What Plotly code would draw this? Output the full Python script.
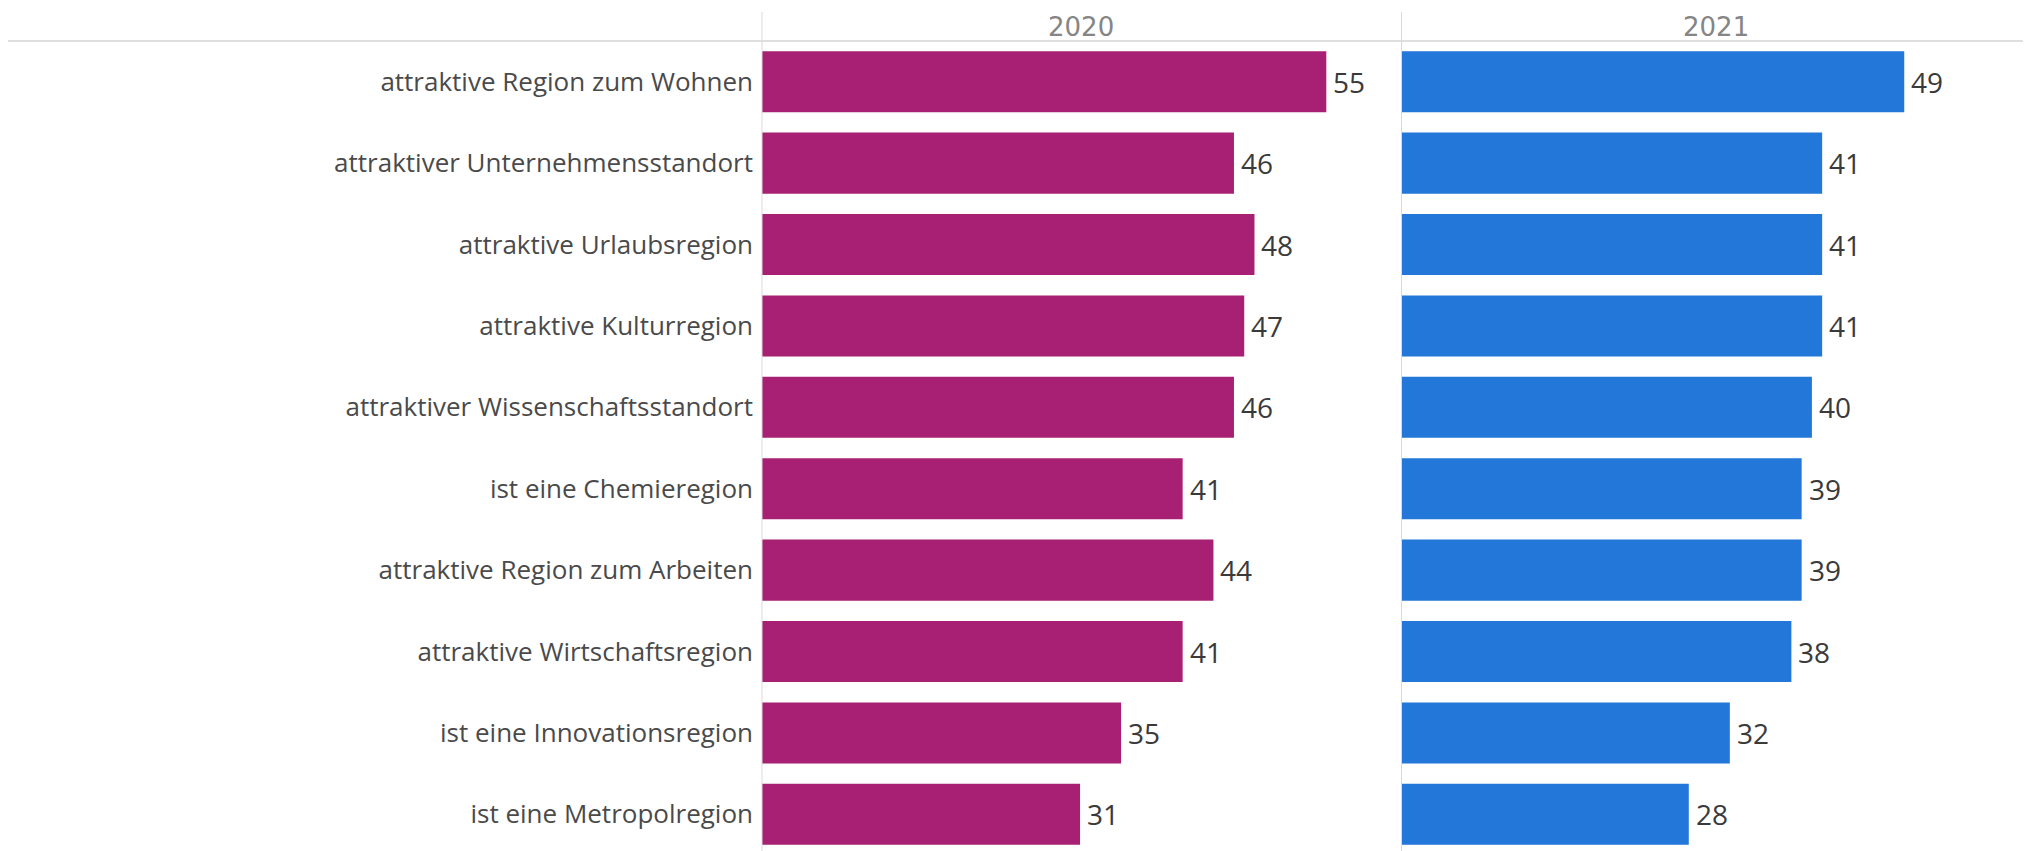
import plotly.graph_objects as go

categories = [
    "attraktive Region zum Wohnen",
    "attraktiver Unternehmensstandort",
    "attraktive Urlaubsregion",
    "attraktive Kulturregion",
    "attraktiver Wissenschaftsstandort",
    "ist eine Chemieregion",
    "attraktive Region zum Arbeiten",
    "attraktive Wirtschaftsregion",
    "ist eine Innovationsregion",
    "ist eine Metropolregion",
]
values_2020 = [55, 46, 48, 47, 46, 41, 44, 41, 35, 31]
values_2021 = [49, 41, 41, 41, 40, 39, 39, 38, 32, 28]
years = ["2020", "2021"]

# page body has an 8px default margin; compensate
OFF = 8
W, H = 2031 - OFF, 851 - OFF
TOP = 41 - OFF
PX_PER_UNIT = 10.26
x1_left, x1_right = 762 - OFF, 1400 - OFF
x2_left, x2_right = 1401.5 - OFF, 2031 - OFF

c2020 = "#A82073"
c2021 = "#2277D9"
FONT = "Open Sans"

fig = go.Figure()
fig.add_trace(go.Bar(x=values_2020, y=categories, orientation="h",
                     marker=dict(color=c2020, line=dict(width=0)),
                     xaxis="x", yaxis="y", hoverinfo="x+y"))
fig.add_trace(go.Bar(x=values_2021, y=categories, orientation="h",
                     marker=dict(color=c2021, line=dict(width=0)),
                     xaxis="x2", yaxis="y2", hoverinfo="x+y"))

annotations = []
for xa, vals in (("x", values_2020), ("x2", values_2021)):
    for cat, v in zip(categories, vals):
        annotations.append(dict(x=v, y=cat, xref=xa, yref="y" if xa == "x" else "y2",
                                text=str(v), showarrow=False, xanchor="left",
                                xshift=5, font=dict(family=FONT, size=28, color="#3a3a3a")))

for (l, r), yr in zip(((x1_left, x1_right), (x2_left, x2_right)), years):
    annotations.append(dict(x=(l + r) / 2 / W, y=1 + (TOP - (27 - OFF)) / (H - TOP),
                            xref="paper", yref="paper", text=yr, showarrow=False,
                            xanchor="center", yanchor="middle",
                            font=dict(family="DejaVu Sans", size=26, color="#858585")))

PITCH = 81.4
yrange = [-0.5 + (H - TOP) / PITCH, -0.5]

shapes = [
    dict(type="line", xref="paper", yref="paper", x0=0, x1=1, y0=1, y1=1,
         line=dict(color="#d4d4d4", width=1.5)),
]
for xp in (x1_left, x2_left):
    shapes.append(dict(type="line", xref="paper", yref="paper", x0=xp / W, x1=xp / W,
                       y0=0, y1=1 + (TOP - (12 - OFF)) / (H - TOP),
                       line=dict(color="#d9d9d9", width=1)))

fig.update_layout(
    width=W, height=H,
    margin=dict(l=0, r=0, t=TOP, b=0),
    paper_bgcolor="white", plot_bgcolor="white",
    showlegend=False, bargap=0.25,
    font=dict(family=FONT),
    xaxis=dict(domain=[x1_left / W, x1_right / W],
               range=[0, (x1_right - x1_left) / PX_PER_UNIT],
               showgrid=False, zeroline=False, showticklabels=False, showline=False),
    xaxis2=dict(domain=[x2_left / W, 1],
                range=[0, (x2_right - x2_left) / PX_PER_UNIT],
                showgrid=False, zeroline=False, showticklabels=False, showline=False),
    yaxis=dict(type="category", categoryarray=categories, range=yrange,
               showgrid=False, zeroline=False, showline=False,
               ticks="", ticklabelstandoff=8,
               tickfont=dict(family=FONT, size=26, color="#4a4a4a"),
               anchor="x"),
    yaxis2=dict(type="category", categoryarray=categories, range=yrange,
                showgrid=False, zeroline=False, showline=False, showticklabels=False,
                anchor="x2", matches="y"),
    annotations=annotations,
    shapes=shapes,
)

fig.write_html("out.html")
